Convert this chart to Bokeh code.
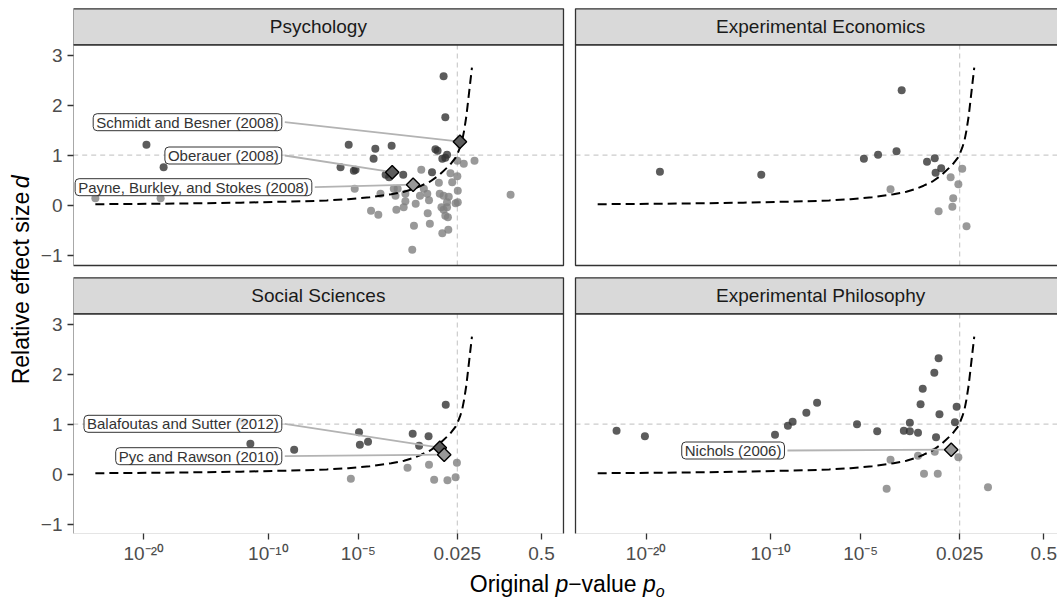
import numpy as np
from statistics import NormalDist
from bokeh.plotting import figure
from bokeh.layouts import column, row
from bokeh.models import Label, FixedTicker, CustomJSTickFormatter, Range1d
from bokeh.core.properties import value
from bokeh.embed import file_html
from bokeh.resources import INLINE

# ---------------- data ----------------
# x values: z_o = qnorm(p_o), the probit of the original p-value (the x-axis scale)
# y values: relative effect size d
panels = ["Psychology", "Experimental Economics", "Social Sciences", "Experimental Philosophy"]

psy_success_z = [-9.20, -8.80, -4.49, -4.68, -4.33, -4.37, -3.87, -3.49, -3.91, -3.63,
                 -3.55, -3.22, -2.55, -2.47, -2.42, -2.20, -2.31, -2.24, -2.28, -2.24]
psy_success_d = [1.21, 0.76, 1.21, 0.76, 0.71, 0.69, 1.13, 1.19, 0.93, 0.61,
                 0.56, 0.61, 0.66, 1.12, 1.09, 1.01, 0.93, 0.95, 2.58, 1.76]
psy_fail_z = [-10.39, -8.87, -4.35, -3.97, -3.80, -2.80, -1.96, -1.81, -1.56, -2.12,
              -1.96, -2.39, -2.08, -1.95, -2.74, -3.44, -3.35, -3.75, -3.40, -3.17,
              -3.17, -2.83, -2.62, -2.37, -2.28, -2.16, -3.21, -3.38, -2.93, -2.33,
              -2.28, -2.20, -2.00, -1.95, -2.65, -2.24, -2.18, -2.97, -2.60, -2.31,
              -2.17, -3.01, -0.72, -2.20, -2.66]
psy_fail_d = [0.14, 0.14, 0.33, -0.11, -0.19, 0.71, 0.89, 0.83, 0.89, 0.64,
              0.58, 0.45, 0.46, 0.29, 0.33, 0.33, 0.33, 0.23, 0.19, 0.23,
              0.08, 0.19, 0.10, 0.23, 0.19, 0.17, -0.04, -0.09, 0.03, -0.04,
              -0.09, -0.04, 0.04, 0.06, -0.16, -0.21, -0.24, -0.41, -0.37, -0.56,
              -0.49, -0.89, 0.21, 0.06, 0.23]

econ_success_z = [-8.94, -6.58, -4.19, -3.86, -3.43, -3.31, -2.72, -2.54, -2.39, -2.52]
econ_success_d = [0.67, 0.61, 0.93, 1.01, 1.08, 2.30, 0.87, 0.94, 0.74, 0.65]
econ_fail_z = [-3.57, -2.17, -1.90, -1.99, -2.11, -2.13, -2.45, -1.80]
econ_fail_d = [0.32, 0.56, 0.73, 0.42, 0.14, -0.03, -0.12, -0.42]

soc_success_z = [-6.95, -6.78, -5.76, -4.25, -4.23, -4.04, -3.00, -2.63, -2.85, -2.23]
soc_success_d = [1.05, 0.61, 0.49, 0.84, 0.59, 0.65, 0.81, 0.76, 0.57, 1.39]
soc_fail_z = [-4.44, -3.12, -2.62, -1.97, -2.50, -2.19, -2.00]
soc_fail_d = [-0.09, 0.13, 0.19, 0.23, -0.11, -0.12, -0.06]

phil_success_z = [-9.95, -9.29, -6.26, -5.96, -5.85, -5.53, -5.28, -4.35, -3.88, -3.26,
                  -3.12, -3.12, -2.93, -2.87, -2.82, -2.55, -2.45, -2.43, -2.51, -2.03, -2.07]
phil_success_d = [0.87, 0.76, 0.79, 0.97, 1.05, 1.23, 1.43, 1.00, 0.86, 0.87,
                  1.03, 0.86, 0.83, 1.40, 1.71, 2.03, 2.32, 1.20, 0.74, 1.35, 1.04]
phil_fail_z = [-3.57, -2.93, -2.54, -1.99, -2.79, -2.47, -3.66, -1.30]
phil_fail_d = [0.29, 0.37, 0.45, 0.34, 0.01, 0.01, -0.29, -0.26]

# highlighted studies
hl_panel = ["Psychology", "Psychology", "Psychology",
            "Social Sciences", "Social Sciences", "Experimental Philosophy"]
hl_name = ["Schmidt and Besner (2008)", "Oberauer (2008)", "Payne, Burkley, and Stokes (2008)",
           "Balafoutas and Sutter (2012)", "Pyc and Rawson (2010)", "Nichols (2006)"]
hl_z = [-1.90, -3.477, -2.99, -2.368, -2.266, -2.157]
hl_d = [1.27, 0.66, 0.41, 0.53, 0.39, 0.49]
hl_success = [True, True, False, True, False, False]

# dashed curve (minimum relative effect size)
curve_z = [-10.39, -9.5, -8.5, -7.9, -7.0, -6.0, -5.5, -5.0, -4.5, -4.0, -3.5, -3.2, -3.0,
           -2.8, -2.6, -2.4, -2.2, -2.1, -2.0, -1.96, -1.9, -1.85, -1.8, -1.75, -1.7, -1.66, -1.62]
curve_d = [0.02, 0.025, 0.033, 0.04, 0.05, 0.07, 0.08, 0.095, 0.12, 0.16, 0.22, 0.27, 0.32,
           0.39, 0.47, 0.59, 0.75, 0.84, 0.95, 1.02, 1.15, 1.28, 1.50, 1.78, 2.15, 2.45, 2.75]

alpha_level = 0.025
d_reference = 1.0

tick_p = [1e-20, 1e-10, 1e-5, 0.025, 0.5]
tick_labels = ["10\u207b\u00b2\u2070", "10\u207b\u00b9\u2070", "10\u207b\u2075", "0.025", "0.5"]
y_ticks = [-1, 0, 1, 2, 3]

# ---------------- layout ----------------
FONT = "Liberation Sans"
PXZ = 42.94          # pixels per z unit
PXD = 50.0           # pixels per d unit
XOFF = 11.698        # data offset of right column
YOFF = -5.38         # data offset of bottom row
Z_LO, Z_HI = -10.906, 0.512
D_LO, D_HI = -1.206, 3.208
STRIP_TOP = 3.928

def xpage(px):
    return (px - 541.0) / PXZ

def ypage(py):
    return (204.7 - py) / PXD

offsets = {
    "Psychology": (0.0, 0.0),
    "Experimental Economics": (XOFF, 0.0),
    "Social Sciences": (0.0, YOFF),
    "Experimental Philosophy": (XOFF, YOFF),
}
series = {
    "Psychology": (psy_success_z, psy_success_d, psy_fail_z, psy_fail_d),
    "Experimental Economics": (econ_success_z, econ_success_d, econ_fail_z, econ_fail_d),
    "Social Sciences": (soc_success_z, soc_success_d, soc_fail_z, soc_fail_d),
    "Experimental Philosophy": (phil_success_z, phil_success_d, phil_fail_z, phil_fail_d),
}

YT_W = 36            # width of the y-title strip
MAIN_H = 570         # height of the main figure
FR_TOP, FR_BOTTOM, FR_LEFT = 7, 533, 73

p = figure(width=1057 - YT_W, height=MAIN_H,
           x_range=Range1d(xpage(FR_LEFT), xpage(1057)),
           y_range=Range1d(ypage(FR_BOTTOM), ypage(FR_TOP)),
           min_border_left=FR_LEFT - YT_W, min_border_right=0,
           min_border_top=FR_TOP, min_border_bottom=MAIN_H - FR_BOTTOM,
           output_backend="svg", toolbar_location=None)
p.outline_line_color = None
p.background_fill_color = "white"
p.border_fill_color = "white"
p.xgrid.visible = False
p.ygrid.visible = False

nd = NormalDist()
z_ticks = [nd.inv_cdf(v) for v in tick_p]
xt = [z for z in z_ticks] + [z + XOFF for z in z_ticks]
yt = [v for v in y_ticks] + [v + YOFF for v in y_ticks]

for ax in (p.xaxis[0], p.yaxis[0]):
    ax.axis_line_color = None
    ax.major_tick_line_color = "#333333"
    ax.major_tick_line_width = 1.3
    ax.major_tick_out = 6
    ax.major_tick_in = 0
    ax.minor_tick_line_color = None
    ax.major_label_text_font = FONT
    ax.major_label_text_font_size = "19px"
    ax.major_label_text_color = "#4D4D4D"

p.xaxis[0].ticker = FixedTicker(ticks=xt)
p.xaxis[0].major_label_standoff = 3
p.xaxis[0].formatter = CustomJSTickFormatter(
    args=dict(zs=z_ticks, labels=tick_labels, xoff=XOFF),
    code="""
    const t = tick > 1.0 ? tick - xoff : tick;
    let best = 0, bd = 1e9;
    for (let i = 0; i < zs.length; i++) {
      const dd = Math.abs(zs[i] - t);
      if (dd < bd) { bd = dd; best = i; }
    }
    return labels[best];
    """)
p.yaxis[0].ticker = FixedTicker(ticks=yt)
p.yaxis[0].major_label_standoff = 5
p.yaxis[0].formatter = CustomJSTickFormatter(
    args=dict(yoff=YOFF),
    code="""
    const t = tick < -2.0 ? tick - yoff : tick;
    const r = Math.round(t);
    return r < 0 ? "\\u2212" + (-r) : String(r);
    """)

z_alpha = nd.inv_cdf(alpha_level)

for name in panels:
    ox, oy = offsets[name]
    sz, sd, fz, fd = series[name]
    # reference lines
    p.segment(x0=[Z_LO + ox], y0=[d_reference + oy], x1=[Z_HI + ox], y1=[d_reference + oy],
              line_color="#CCCCCC", line_width=1.2, line_dash="5 4")
    p.segment(x0=[z_alpha + ox], y0=[D_LO + oy], x1=[z_alpha + ox], y1=[D_HI + oy],
              line_color="#CCCCCC", line_width=1.2, line_dash="5 4")
    # points
    p.scatter(x=[v + ox for v in fz], y=[v + oy for v in fd], marker="circle", size=8,
              fill_color="#808080", fill_alpha=0.8, line_color=None)
    p.scatter(x=[v + ox for v in sz], y=[v + oy for v in sd], marker="circle", size=8,
              fill_color="#333333", fill_alpha=0.8, line_color=None)
    # curve
    p.line(x=[v + ox for v in curve_z], y=[v + oy for v in curve_d],
           line_color="black", line_width=2, line_dash="9 5")
    # strip
    p.quad(left=[Z_LO + ox], right=[Z_HI + ox], bottom=[D_HI + oy], top=[STRIP_TOP + oy],
           fill_color="#D9D9D9", line_color="#333333", line_width=1.3)
    p.text(x=[(Z_LO + Z_HI) / 2 + ox], y=[(D_HI + STRIP_TOP) / 2 + oy], text=[name],
           text_font=value(FONT), text_font_size="19px", text_color="#1A1A1A",
           text_align="center", text_baseline="middle")
    # panel border
    p.quad(left=[Z_LO + ox], right=[Z_HI + ox], bottom=[D_LO + oy], top=[D_HI + oy],
           fill_color=None, line_color="#333333", line_width=1.3)

# highlighted studies: label layout (text right edge z, centre d), placed like ggrepel did
label_z = [-6.048, -6.048, -5.349, -6.048, -6.048, -6.04]
label_d = [1.66, 0.994, 0.36, 1.008, 0.36, 0.474]
pad_units = 3.0 / PXZ
for i, name in enumerate(hl_name):
    ox, oy = offsets[hl_panel[i]]
    p.segment(x0=[label_z[i] + pad_units + ox], y0=[label_d[i] + oy],
              x1=[hl_z[i] + ox], y1=[hl_d[i] + oy],
              line_color="#B3B3B3", line_width=1.8)
for i, name in enumerate(hl_name):
    ox, oy = offsets[hl_panel[i]]
    p.scatter(x=[hl_z[i] + ox], y=[hl_d[i] + oy], marker="square", angle=np.pi / 4, size=9.5,
              fill_color="#5C5C5C" if hl_success[i] else "#999999",
              line_color="black", line_width=1.4)
    p.add_layout(Label(x=label_z[i] + ox, y=label_d[i] + oy, text=name,
                       text_align="right", text_baseline="middle",
                       text_font=FONT, text_font_size="15px", text_color="#333333",
                       background_fill_color="white", background_fill_alpha=0.85,
                       border_line_color="#333333", border_line_width=1,
                       padding=dict(left=3, right=3, top=0, bottom=0), border_radius=4))

# ---------------- axis titles (separate blank figures, page-pixel coordinates) ----------------
def blank(width, height, y_lo):
    f = figure(width=width, height=height, x_range=Range1d(0, width),
               y_range=Range1d(-(y_lo + height), -y_lo),
               x_axis_location=None, y_axis_location=None,
               min_border=0, output_backend="svg", toolbar_location=None)
    f.grid.visible = False
    f.outline_line_color = None
    f.background_fill_color = "white"
    f.border_fill_color = "white"
    return f

# y title: pieces centred on their own midpoints (text reads bottom to top)
ytitle = blank(YT_W, MAIN_H, 0)
ytitle.text(x=[20], y=[-304], text=["Relative effect size"], angle=np.pi / 2,
            text_font=value(FONT), text_font_size="23px", text_color="black",
            text_align="center", text_baseline="middle")
ytitle.text(x=[20], y=[-189], text=["d"], angle=np.pi / 2,
            text_font=value(FONT), text_font_size="23px", text_font_style="italic",
            text_color="black", text_align="center", text_baseline="middle")

XT_H = 599 - MAIN_H
xtitle = blank(1057, XT_H, MAIN_H)
pieces = [("Original", 508.9, "normal", "23px", 583), ("p", 561.3, "italic", "23px", 583),
          ("\u2212value", 601.9, "normal", "23px", 583), ("p", 648.9, "italic", "23px", 583),
          ("o", 659.8, "italic", "16px", 591)]
for txt, px, style, fs, mid in pieces:
    xtitle.text(x=[px], y=[-mid], text=[txt], text_font=value(FONT), text_font_size=fs,
                text_font_style=style, text_color="black",
                text_align="center", text_baseline="middle")

layout = column(row(ytitle, p), xtitle)
open("out.html", "w").write(file_html(layout, INLINE))
